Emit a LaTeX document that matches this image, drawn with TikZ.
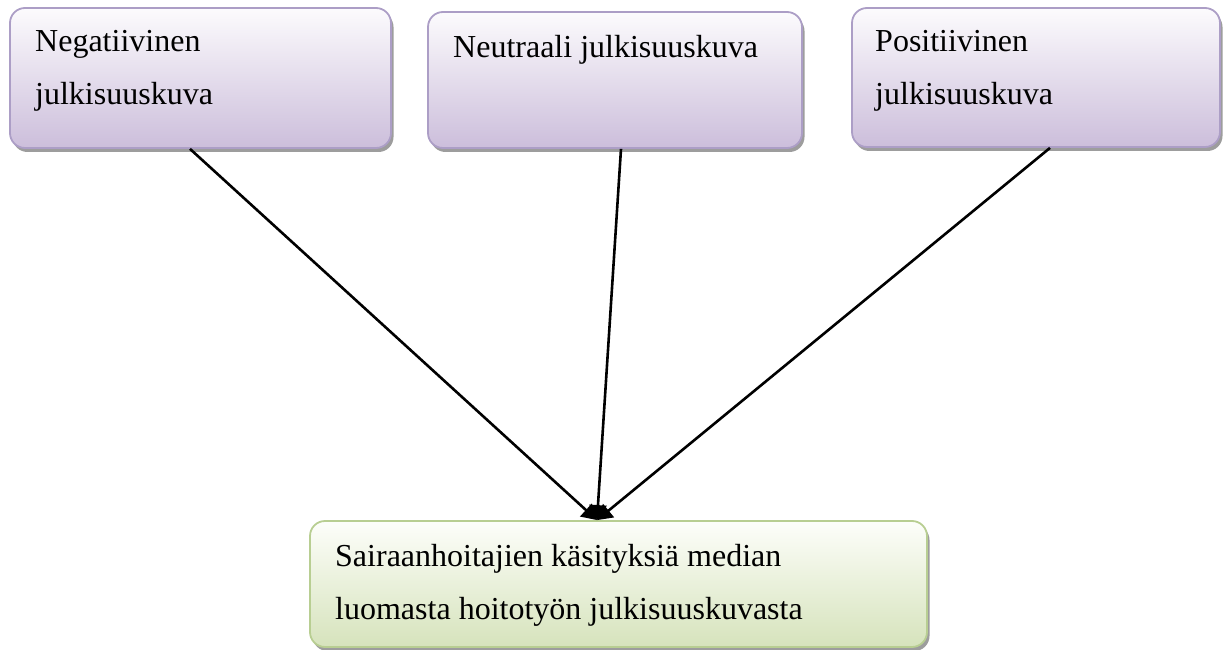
\documentclass[tikz,border=0pt]{standalone}
\usepackage{fontspec}
\setmainfont{Liberation Serif}
\usetikzlibrary{arrows.meta,shadows}
\definecolor{pborder}{RGB}{172,158,198}
\definecolor{ptop}{RGB}{252,251,253}
\definecolor{pbot}{RGB}{204,190,219}
\definecolor{gborder}{RGB}{184,206,146}
\definecolor{gtop}{RGB}{253,254,250}
\definecolor{gbot}{RGB}{214,227,188}
\tikzset{
  box/.style={draw, line width=1.8pt, rounded corners=15pt, inner sep=0pt,
    drop shadow={shadow xshift=2.5pt, shadow yshift=-4pt, fill=black!55, opacity=0.7}},
  pbox/.style={box, draw=pborder, top color=ptop, bottom color=pbot},
  gbox/.style={box, draw=gborder, top color=gtop, bottom color=gbot},
  txt/.style={anchor=base west, align=left, inner sep=0pt, font=\fontsize{32}{53}\selectfont},
  conn/.style={line width=2.6pt, -{Triangle[length=15pt,width=17pt]}}
}
\begin{document}
\begin{tikzpicture}[x=1pt,y=1pt]
\useasboundingbox (0,0) rectangle (1232,-650);
\node[pbox, minimum width=381pt, minimum height=140pt] (n1) at (200.5,-78) {};
\node[pbox, minimum width=374pt, minimum height=136pt] (n2) at (615,-80) {};
\node[pbox, minimum width=368pt, minimum height=139pt] (n3) at (1036,-77.5) {};
\node[gbox, minimum width=617pt, minimum height=126pt] (n4) at (618.5,-584) {};
\node[txt] (t1) at (35,-105) {Negatiivinen\\julkisuuskuva};
\node[txt] (t2) at (453,-58) {Neutraali julkisuuskuva};
\node[txt] (t3) at (875,-105) {Positiivinen\\julkisuuskuva};
\node[txt] (t4) at (335,-619) {Sairaanhoitajien käsityksiä median\\luomasta hoitotyön julkisuuskuvasta};
\coordinate (e) at ([xshift=-21.5pt]n4.north);
\draw[conn] ([xshift=-10.5pt]n1.south) -- (e);
\draw[conn] ([xshift=6pt]n2.south) -- (e);
\draw[conn] ([xshift=14pt]n3.south) -- (e);
\end{tikzpicture}
\end{document}
